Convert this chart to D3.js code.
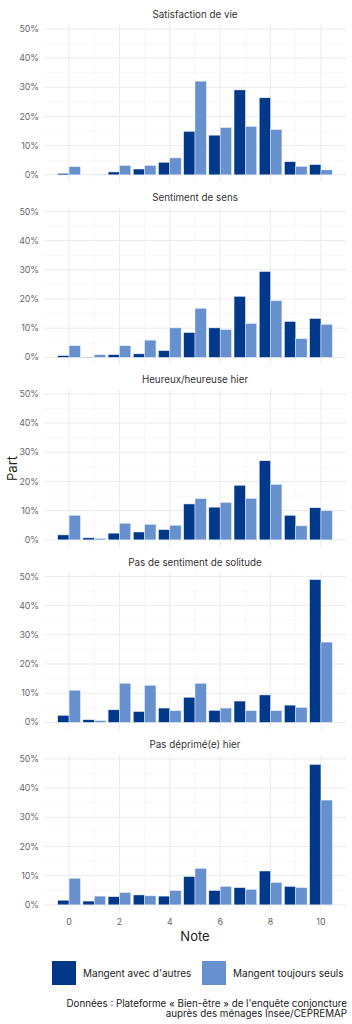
<!DOCTYPE html>
<html>
<head>
<meta charset="utf-8">
<script src="https://cdn.jsdelivr.net/npm/d3@7"></script>
<style>
  body { margin: 0; background: #fff; }
  text { font-family: Inter, "Open Sans", sans-serif; }
</style>
</head>
<body>
<div id="chart"></div>
<script>
(function(){

  // data (shares, in %)
  var notes = [0, 1, 2, 3, 4, 5, 6, 7, 8, 9, 10]
  var panels = ["Satisfaction de vie", "Sentiment de sens", "Heureux/heureuse hier",
                "Pas de sentiment de solitude", "Pas déprimé(e) hier"]
  var groups = ["Mangent avec d'autres", "Mangent toujours seuls"]

  var avecAutres = [
    [0.5, 0, 1.0, 2.0, 4.3, 14.9, 13.6, 29.1, 26.4, 4.5, 3.5],
    [0.6, 0.1, 0.9, 1.2, 2.3, 8.5, 10.1, 20.9, 29.4, 12.3, 13.3],
    [1.7, 0.7, 2.3, 2.7, 3.5, 12.3, 11.2, 18.7, 27.1, 8.4, 11.0],
    [2.4, 0.9, 4.3, 3.7, 4.9, 8.6, 4.1, 7.3, 9.4, 5.9, 48.9],
    [1.6, 1.3, 2.8, 3.4, 3.0, 9.7, 4.9, 5.9, 11.6, 6.3, 48.1]
  ]
  var toujoursSeuls = [
    [2.8, 0.2, 3.2, 3.2, 5.8, 32.1, 16.2, 16.6, 15.5, 2.9, 1.7],
    [4.0, 0.9, 4.0, 5.9, 10.1, 16.8, 9.5, 11.6, 19.4, 6.4, 11.3],
    [8.4, 0.5, 5.7, 5.3, 5.0, 14.1, 12.8, 14.2, 19.0, 4.8, 10.0],
    [11.0, 0.6, 13.4, 12.7, 4.0, 13.4, 4.9, 4.0, 4.0, 5.1, 27.5],
    [9.1, 3.0, 4.2, 3.1, 4.9, 12.5, 6.3, 5.3, 7.7, 5.9, 35.9]
  ]
  var yTicks = [0, 10, 20, 30, 40, 50]
  var xTicks = [0, 2, 4, 6, 8, 10]

  var colors = ["#00388a", "#6690ce"]

  var width = 352, height = 1024
  var left = 44, right = 346
  var panelTop = 25, panelH = 157, panelStep = 182.5

  var svg = d3.select("#chart").append("svg")
      .attr("width", width)
      .attr("height", height)

  var maxVal = d3.max(avecAutres.concat(toujoursSeuls), function(r){ return d3.max(r) })

  var x = d3.scaleLinear().domain([-0.995, 10.995]).range([left, right])
  var y = d3.scaleLinear().domain([-0.05 * maxVal, maxVal * 1.05]).range([panelH, 0])
  var bw = x(0.45) - x(0)

  panels.forEach(function(title, p){
    var g = svg.append("g")
        .attr("transform", "translate(0," + (panelTop + p * panelStep) + ")")

    // grid lines
    g.selectAll(".minor")
      .data([5, 15, 25, 35, 45])
      .enter().append("line")
      .attr("x1", left).attr("x2", right)
      .attr("y1", function(d){ return y(d) }).attr("y2", function(d){ return y(d) })
      .style("stroke", "#f3f3f3").style("stroke-width", 0.6)

    g.selectAll(".hgrid")
      .data(yTicks)
      .enter().append("line")
      .attr("x1", left).attr("x2", right)
      .attr("y1", function(d){ return y(d) }).attr("y2", function(d){ return y(d) })
      .style("stroke", "#ebebeb").style("stroke-width", 1)

    g.selectAll(".vgrid")
      .data(notes)
      .enter().append("line")
      .attr("x1", function(d){ return x(d) }).attr("x2", function(d){ return x(d) })
      .attr("y1", 0).attr("y2", panelH)
      .style("stroke", function(d){ return d % 2 == 0 ? "#ebebeb" : "#f3f3f3" })
      .style("stroke-width", function(d){ return d % 2 == 0 ? 1 : 0.7 })

    // strip title
    g.append("text")
      .attr("x", (left + right) / 2)
      .attr("y", -10)
      .attr("dy", "0.35em")
      .attr("text-anchor", "middle")
      .style("font-size", "9.8px")
      .style("fill", "#333")
      .text(title)

    // y tick labels
    g.selectAll(".ylab")
      .data(yTicks)
      .enter().append("text")
      .attr("x", 39)
      .attr("y", function(d){ return y(d) })
      .attr("dy", "0.35em")
      .attr("text-anchor", "end")
      .style("font-size", "8.8px")
      .style("fill", "#666")
      .text(function(d){ return d + "%" })

    // bars
    var series = [avecAutres[p], toujoursSeuls[p]]
    series.forEach(function(vals, s){
      g.selectAll(".bar" + s)
        .data(vals)
        .enter().append("rect")
        .attr("x", function(d, i){ return x(notes[i] - 0.45 + s * 0.45) })
        .attr("width", bw)
        .attr("y", function(d){ return y(d) })
        .attr("height", function(d){ return y(0) - y(d) })
        .style("fill", colors[s])
        .style("stroke", "#e8eef8")
        .style("stroke-width", 0.5)
    })
  })

  var bottom = panelTop + 4 * panelStep + panelH

  // x axis labels
  svg.selectAll(".xlab")
    .data(xTicks)
    .enter().append("text")
    .attr("x", function(d){ return x(d) })
    .attr("y", bottom + 10)
    .attr("dy", "0.35em")
    .attr("text-anchor", "middle")
    .style("font-size", "8.8px")
    .style("fill", "#666")
    .text(function(d){ return d })

  svg.append("text")
    .attr("x", (left + right) / 2)
    .attr("y", bottom + 24)
    .attr("dy", "0.35em")
    .attr("text-anchor", "middle")
    .style("font-size", "13px")
    .style("fill", "#222")
    .text("Note")

  svg.append("text")
    .attr("transform", "translate(12," + ((panelTop + bottom) / 2) + ") rotate(-90)")
    .attr("dy", "0.35em")
    .attr("text-anchor", "middle")
    .style("font-size", "13px")
    .style("fill", "#222")
    .text("Part")

  // legend
  var legX = [52, 202]
  groups.forEach(function(name, i){
    svg.append("rect")
      .attr("x", legX[i]).attr("y", 961)
      .attr("width", 24).attr("height", 24)
      .style("fill", colors[i])
    svg.append("text")
      .attr("x", legX[i] + 31)
      .attr("y", 973)
      .attr("dy", "0.35em")
      .style("font-size", "10px")
      .style("fill", "#222")
      .text(name)
  })

  // caption
  var caption = ["Données : Plateforme « Bien-être » de l'enquête conjoncture",
                 "auprès des ménages Insee/CEPREMAP"]
  svg.selectAll(".cap")
    .data(caption)
    .enter().append("text")
    .attr("x", 347)
    .attr("y", function(d, i){ return 1004 + i * 10 })
    .attr("dy", "0.35em")
    .attr("text-anchor", "end")
    .style("font-size", "9.8px")
    .style("fill", "#222")
    .text(function(d){ return d })

})()
</script>
</body>
</html>
